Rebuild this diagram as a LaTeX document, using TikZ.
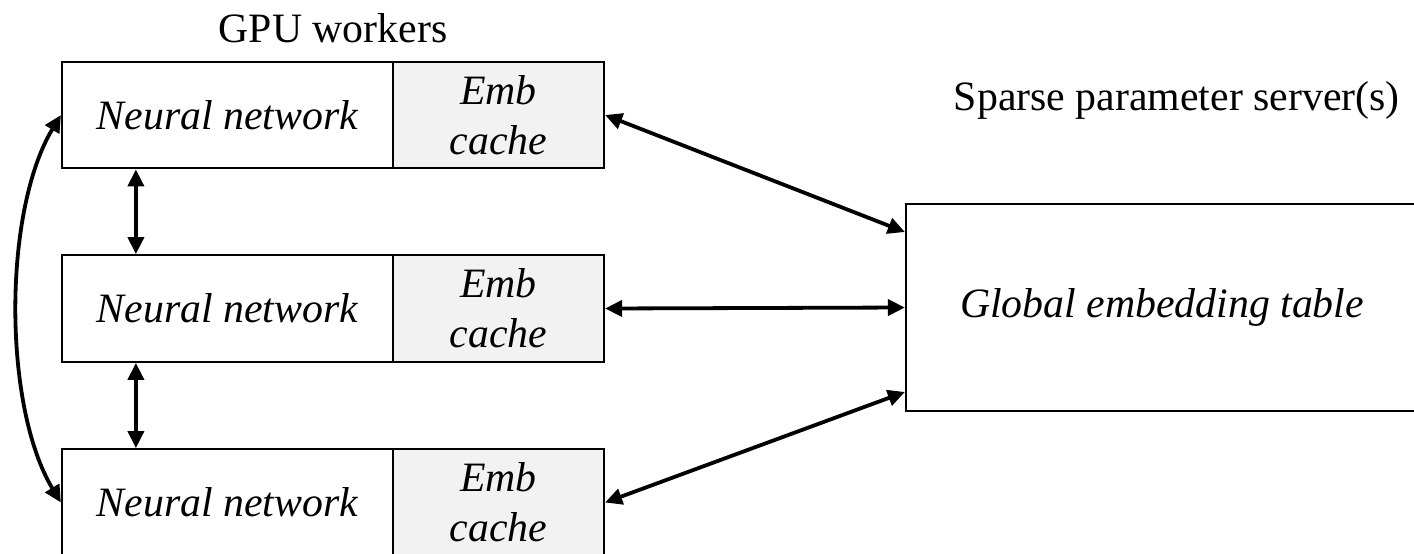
\documentclass[tikz,border=0pt]{standalone}
\usepackage{fontspec}
\setmainfont{LiberationSerif}[Extension=.ttf, UprightFont=*-Regular, ItalicFont=*-Italic,
  BoldFont=*-Bold, BoldItalicFont=*-BoldItalic]
\usetikzlibrary{arrows.meta}
\definecolor{cachefill}{RGB}{242,242,242}
\tikzset{
  box/.style={draw=black, line width=1.1pt, inner sep=0pt, minimum height=53.3pt,
    font=\fontsize{20.9}{25}\selectfont\itshape, align=center},
  nnbox/.style={box, fill=white, minimum width=165.5pt},
  embbox/.style={box, fill=cachefill, minimum width=105.5pt},
  serverbox/.style={box, fill=white, minimum width=256pt, minimum height=103.5pt},
  caption/.style={font=\fontsize{20.9}{25}\selectfont, inner sep=0pt},
  link/.style={line width=1.9pt, {Triangle[length=8.5pt,width=8pt]}-{Triangle[length=8.5pt,width=8pt]}}
}
\begin{document}
\begin{tikzpicture}[x=0.5pt, y=-0.5pt]
\useasboundingbox (0,0) rectangle (1414,553);

% GPU workers: network part and embedding cache part
\node[nnbox]  (nn1)  at (227.5,115)   {Neural network};
\node[embbox] (emb1) at (498.5,115)   {Emb\\cache};
\node[nnbox]  (nn2)  at (227.5,308.5) {Neural network};
\node[embbox] (emb2) at (498.5,308.5) {Emb\\cache};
\node[nnbox]  (nn3)  at (227.5,502.5) {Neural network};
\node[embbox] (emb3) at (498.5,502.5) {Emb\\cache};

% sparse parameter server
\node[serverbox] (srv) at (1162,307.5) {Global embedding table};

% captions
\node[caption] (gpu) at (333,28) {GPU workers};
\node[caption, anchor=east] (sps) at (1400,100) {Sparse parameter server(s)};

% links between neighbouring workers
\draw[link] ([xshift=37.5pt]nn1.south west) -- ([xshift=37.5pt]nn2.north west);
\draw[link] ([xshift=37.5pt]nn2.south west) -- ([xshift=37.5pt]nn3.north west);
\draw[link] (nn1.west) .. controls +(-58,96) and +(-58,-96) .. (nn3.west);

% links between caches and the server
\draw[link] (emb1.east) -- ([yshift=37.75pt]srv.west);
\draw[link] (emb2.east) -- (srv.west);
\draw[link] (emb3.east) -- ([yshift=-42.25pt]srv.west);
\end{tikzpicture}
\end{document}
